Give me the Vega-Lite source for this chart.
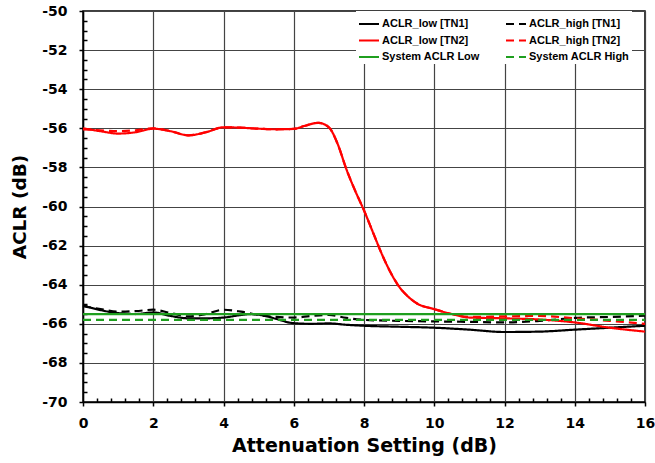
{
  "$schema": "https://vega.github.io/schema/vega-lite/v6.json",
  "width": 562,
  "height": 391,
  "autosize": "none",
  "padding": {"left": 83, "top": 11, "right": 10, "bottom": 61},
  "config": {
    "view": {"stroke": "black", "strokeWidth": 1.5},
    "axis": {
      "labelFont": "DejaVu Sans", "labelFontSize": 14, "labelFontWeight": "bold", "labelColor": "black",
      "titleFont": "DejaVu Sans", "titleFontWeight": "bold", "titleColor": "black",
      "domainColor": "black", "domainWidth": 1.5, "tickColor": "black", "tickWidth": 1.5,
      "gridColor": "#444", "gridWidth": 1.2, "labelFlush": false, "labelOverlap": false
    }
  },
  "data": {"values": [
    {"x": 0, "y": -65.05, "series": "ACLR_low [TN1]"},
    {"x": 0.5, "y": -65.3, "series": "ACLR_low [TN1]"},
    {"x": 1, "y": -65.45, "series": "ACLR_low [TN1]"},
    {"x": 1.5, "y": -65.5, "series": "ACLR_low [TN1]"},
    {"x": 2, "y": -65.42, "series": "ACLR_low [TN1]"},
    {"x": 2.5, "y": -65.6, "series": "ACLR_low [TN1]"},
    {"x": 3, "y": -65.72, "series": "ACLR_low [TN1]"},
    {"x": 3.5, "y": -65.72, "series": "ACLR_low [TN1]"},
    {"x": 4, "y": -65.68, "series": "ACLR_low [TN1]"},
    {"x": 4.5, "y": -65.55, "series": "ACLR_low [TN1]"},
    {"x": 4.8, "y": -65.5, "series": "ACLR_low [TN1]"},
    {"x": 5.2, "y": -65.6, "series": "ACLR_low [TN1]"},
    {"x": 5.5, "y": -65.75, "series": "ACLR_low [TN1]"},
    {"x": 6, "y": -65.97, "series": "ACLR_low [TN1]"},
    {"x": 6.5, "y": -66.0, "series": "ACLR_low [TN1]"},
    {"x": 7, "y": -65.98, "series": "ACLR_low [TN1]"},
    {"x": 7.5, "y": -66.05, "series": "ACLR_low [TN1]"},
    {"x": 8, "y": -66.1, "series": "ACLR_low [TN1]"},
    {"x": 9, "y": -66.15, "series": "ACLR_low [TN1]"},
    {"x": 10, "y": -66.2, "series": "ACLR_low [TN1]"},
    {"x": 11, "y": -66.3, "series": "ACLR_low [TN1]"},
    {"x": 12, "y": -66.42, "series": "ACLR_low [TN1]"},
    {"x": 13, "y": -66.4, "series": "ACLR_low [TN1]"},
    {"x": 14, "y": -66.3, "series": "ACLR_low [TN1]"},
    {"x": 15, "y": -66.2, "series": "ACLR_low [TN1]"},
    {"x": 16, "y": -66.1, "series": "ACLR_low [TN1]"},

    {"x": 0, "y": -65.1, "series": "ACLR_high [TN1]"},
    {"x": 0.5, "y": -65.25, "series": "ACLR_high [TN1]"},
    {"x": 1, "y": -65.38, "series": "ACLR_high [TN1]"},
    {"x": 1.5, "y": -65.35, "series": "ACLR_high [TN1]"},
    {"x": 2, "y": -65.28, "series": "ACLR_high [TN1]"},
    {"x": 2.5, "y": -65.45, "series": "ACLR_high [TN1]"},
    {"x": 3, "y": -65.62, "series": "ACLR_high [TN1]"},
    {"x": 3.5, "y": -65.5, "series": "ACLR_high [TN1]"},
    {"x": 4, "y": -65.28, "series": "ACLR_high [TN1]"},
    {"x": 4.5, "y": -65.38, "series": "ACLR_high [TN1]"},
    {"x": 5, "y": -65.55, "series": "ACLR_high [TN1]"},
    {"x": 5.5, "y": -65.65, "series": "ACLR_high [TN1]"},
    {"x": 6, "y": -65.68, "series": "ACLR_high [TN1]"},
    {"x": 6.5, "y": -65.6, "series": "ACLR_high [TN1]"},
    {"x": 7, "y": -65.55, "series": "ACLR_high [TN1]"},
    {"x": 7.5, "y": -65.7, "series": "ACLR_high [TN1]"},
    {"x": 8, "y": -65.8, "series": "ACLR_high [TN1]"},
    {"x": 9, "y": -65.85, "series": "ACLR_high [TN1]"},
    {"x": 10, "y": -65.88, "series": "ACLR_high [TN1]"},
    {"x": 11, "y": -65.9, "series": "ACLR_high [TN1]"},
    {"x": 12, "y": -65.93, "series": "ACLR_high [TN1]"},
    {"x": 13, "y": -65.85, "series": "ACLR_high [TN1]"},
    {"x": 14, "y": -65.7, "series": "ACLR_high [TN1]"},
    {"x": 15, "y": -65.65, "series": "ACLR_high [TN1]"},
    {"x": 16, "y": -65.58, "series": "ACLR_high [TN1]"},

    {"x": 0, "y": -56.0, "series": "ACLR_low [TN2]"},
    {"x": 0.5, "y": -56.15, "series": "ACLR_low [TN2]"},
    {"x": 1, "y": -56.27, "series": "ACLR_low [TN2]"},
    {"x": 1.5, "y": -56.2, "series": "ACLR_low [TN2]"},
    {"x": 2, "y": -56.02, "series": "ACLR_low [TN2]"},
    {"x": 2.5, "y": -56.15, "series": "ACLR_low [TN2]"},
    {"x": 3, "y": -56.36, "series": "ACLR_low [TN2]"},
    {"x": 3.5, "y": -56.2, "series": "ACLR_low [TN2]"},
    {"x": 4, "y": -55.95, "series": "ACLR_low [TN2]"},
    {"x": 4.5, "y": -55.97, "series": "ACLR_low [TN2]"},
    {"x": 5, "y": -56.02, "series": "ACLR_low [TN2]"},
    {"x": 5.5, "y": -56.05, "series": "ACLR_low [TN2]"},
    {"x": 6, "y": -56.03, "series": "ACLR_low [TN2]"},
    {"x": 6.3, "y": -55.88, "series": "ACLR_low [TN2]"},
    {"x": 6.7, "y": -55.72, "series": "ACLR_low [TN2]"},
    {"x": 7, "y": -55.95, "series": "ACLR_low [TN2]"},
    {"x": 7.25, "y": -56.8, "series": "ACLR_low [TN2]"},
    {"x": 7.5, "y": -58.1, "series": "ACLR_low [TN2]"},
    {"x": 7.75, "y": -59.2, "series": "ACLR_low [TN2]"},
    {"x": 8, "y": -60.2, "series": "ACLR_low [TN2]"},
    {"x": 8.25, "y": -61.3, "series": "ACLR_low [TN2]"},
    {"x": 8.5, "y": -62.4, "series": "ACLR_low [TN2]"},
    {"x": 8.75, "y": -63.35, "series": "ACLR_low [TN2]"},
    {"x": 9, "y": -64.1, "series": "ACLR_low [TN2]"},
    {"x": 9.25, "y": -64.6, "series": "ACLR_low [TN2]"},
    {"x": 9.5, "y": -64.95, "series": "ACLR_low [TN2]"},
    {"x": 10, "y": -65.25, "series": "ACLR_low [TN2]"},
    {"x": 10.5, "y": -65.5, "series": "ACLR_low [TN2]"},
    {"x": 11, "y": -65.68, "series": "ACLR_low [TN2]"},
    {"x": 12, "y": -65.72, "series": "ACLR_low [TN2]"},
    {"x": 13, "y": -65.78, "series": "ACLR_low [TN2]"},
    {"x": 14, "y": -65.93, "series": "ACLR_low [TN2]"},
    {"x": 15, "y": -66.2, "series": "ACLR_low [TN2]"},
    {"x": 16, "y": -66.4, "series": "ACLR_low [TN2]"},

    {"x": 0, "y": -56.05, "series": "ACLR_high [TN2]"},
    {"x": 0.5, "y": -56.1, "series": "ACLR_high [TN2]"},
    {"x": 1, "y": -56.15, "series": "ACLR_high [TN2]"},
    {"x": 1.5, "y": -56.1, "series": "ACLR_high [TN2]"},
    {"x": 2, "y": -56.0, "series": "ACLR_high [TN2]"},
    {"x": 2.5, "y": -56.15, "series": "ACLR_high [TN2]"},
    {"x": 3, "y": -56.36, "series": "ACLR_high [TN2]"},
    {"x": 3.5, "y": -56.2, "series": "ACLR_high [TN2]"},
    {"x": 4, "y": -55.95, "series": "ACLR_high [TN2]"},
    {"x": 4.5, "y": -55.97, "series": "ACLR_high [TN2]"},
    {"x": 5, "y": -56.02, "series": "ACLR_high [TN2]"},
    {"x": 5.5, "y": -56.05, "series": "ACLR_high [TN2]"},
    {"x": 6, "y": -56.03, "series": "ACLR_high [TN2]"},
    {"x": 6.3, "y": -55.88, "series": "ACLR_high [TN2]"},
    {"x": 6.7, "y": -55.72, "series": "ACLR_high [TN2]"},
    {"x": 7, "y": -55.95, "series": "ACLR_high [TN2]"},
    {"x": 7.25, "y": -56.8, "series": "ACLR_high [TN2]"},
    {"x": 7.5, "y": -58.1, "series": "ACLR_high [TN2]"},
    {"x": 7.75, "y": -59.2, "series": "ACLR_high [TN2]"},
    {"x": 8, "y": -60.2, "series": "ACLR_high [TN2]"},
    {"x": 8.25, "y": -61.3, "series": "ACLR_high [TN2]"},
    {"x": 8.5, "y": -62.4, "series": "ACLR_high [TN2]"},
    {"x": 8.75, "y": -63.35, "series": "ACLR_high [TN2]"},
    {"x": 9, "y": -64.1, "series": "ACLR_high [TN2]"},
    {"x": 9.25, "y": -64.6, "series": "ACLR_high [TN2]"},
    {"x": 9.5, "y": -64.95, "series": "ACLR_high [TN2]"},
    {"x": 10, "y": -65.25, "series": "ACLR_high [TN2]"},
    {"x": 10.5, "y": -65.5, "series": "ACLR_high [TN2]"},
    {"x": 11, "y": -65.65, "series": "ACLR_high [TN2]"},
    {"x": 12, "y": -65.62, "series": "ACLR_high [TN2]"},
    {"x": 13, "y": -65.6, "series": "ACLR_high [TN2]"},
    {"x": 14, "y": -65.72, "series": "ACLR_high [TN2]"},
    {"x": 15, "y": -65.85, "series": "ACLR_high [TN2]"},
    {"x": 16, "y": -66.0, "series": "ACLR_high [TN2]"},

    {"x": 0, "y": -65.5, "series": "System ACLR Low"},
    {"x": 16, "y": -65.5, "series": "System ACLR Low"},
    {"x": 0, "y": -65.8, "series": "System ACLR High"},
    {"x": 16, "y": -65.8, "series": "System ACLR High"}
  ]},
  "mark": {"type": "line", "interpolate": "monotone", "strokeWidth": 2.2},
  "encoding": {
    "x": {"field": "x", "type": "quantitative",
      "scale": {"domain": [0, 16], "nice": false},
      "axis": {"orient": "bottom",
        "values": [0, 0.4, 0.8, 1.2, 1.6, 2, 2.4, 2.8, 3.2, 3.6, 4, 4.4, 4.8, 5.2, 5.6, 6, 6.4, 6.8, 7.2, 7.6, 8, 8.4, 8.8, 9.2, 9.6, 10, 10.4, 10.8, 11.2, 11.6, 12, 12.4, 12.8, 13.2, 13.6, 14, 14.4, 14.8, 15.2, 15.6, 16],
        "labelExpr": "datum.value % 2 === 0 ? '' + datum.value : ''",
        "tickSize": {"condition": {"test": "datum.value % 2 === 0", "value": 4}, "value": -4},
        "gridOpacity": {"condition": {"test": "datum.value % 2 === 0", "value": 1}, "value": 0},
        "labelPadding": 10,
        "title": "Attenuation Setting (dB)", "titleFontSize": 19, "titlePadding": 6, "grid": true}},
    "y": {"field": "y", "type": "quantitative",
      "scale": {"domain": [-70, -50], "nice": false, "zero": false},
      "axis": {"orient": "left",
        "values": [-70, -69.5, -69, -68.5, -68, -67.5, -67, -66.5, -66, -65.5, -65, -64.5, -64, -63.5, -63, -62.5, -62, -61.5, -61, -60.5, -60, -59.5, -59, -58.5, -58, -57.5, -57, -56.5, -56, -55.5, -55, -54.5, -54, -53.5, -53, -52.5, -52, -51.5, -51, -50.5, -50],
        "labelExpr": "datum.value % 2 === 0 ? '' + datum.value : ''",
        "tickSize": {"condition": {"test": "datum.value % 2 === 0", "value": 4}, "value": -4},
        "gridOpacity": {"condition": {"test": "datum.value % 2 === 0", "value": 1}, "value": 0},
        "labelPadding": 12,
        "title": "ACLR (dB)", "titleFontSize": 18.5, "titlePadding": 12, "grid": true}},
    "color": {"field": "series", "type": "nominal",
      "scale": {"domain": ["ACLR_low [TN1]", "ACLR_low [TN2]", "System ACLR Low", "ACLR_high [TN1]", "ACLR_high [TN2]", "System ACLR High"],
        "range": ["#000000", "#ff0000", "#1f9f1f", "#000000", "#ff0000", "#1f9f1f"]},
      "legend": {"orient": "none", "legendX": 273, "legendY": 0, "columns": 2, "title": null, "fillColor": "white",
        "symbolType": "stroke", "symbolSize": 400, "symbolStrokeWidth": 2, "labelFont": "Liberation Sans", "labelFontSize": 11,
        "labelFontWeight": "bold", "labelColor": "black", "rowPadding": 0.5, "columnPadding": 22, "padding": 2, "labelOffset": 2}},
    "strokeDash": {"field": "series", "type": "nominal",
      "scale": {"domain": ["ACLR_low [TN1]", "ACLR_low [TN2]", "System ACLR Low", "ACLR_high [TN1]", "ACLR_high [TN2]", "System ACLR High"],
        "range": [[1, 0], [1, 0], [1, 0], [8, 5], [8, 5], [8, 5]]},
      "legend": {"orient": "none", "legendX": 273, "legendY": 0, "columns": 2, "title": null, "fillColor": "white",
        "symbolType": "stroke", "symbolSize": 400, "symbolStrokeWidth": 2, "labelFont": "Liberation Sans", "labelFontSize": 11,
        "labelFontWeight": "bold", "labelColor": "black", "rowPadding": 0.5, "columnPadding": 22, "padding": 2, "labelOffset": 2}}
  }
}
